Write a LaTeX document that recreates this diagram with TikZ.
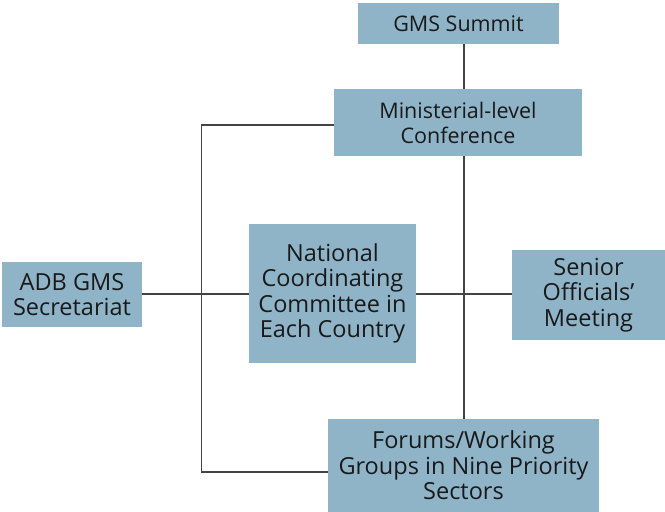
\documentclass[tikz,border=0pt]{standalone}
\usepackage{fontspec}
\setmainfont{Open Sans}
\definecolor{boxblue}{HTML}{8FB4C8}
\definecolor{linegray}{HTML}{444444}
\tikzset{
  orgbox/.style={fill=boxblue, draw=none, align=center, inner sep=0pt,
    font=\fontsize{23.5}{25.5}\selectfont, text=black!90},
  topbox/.style={orgbox, font=\fontsize{21.5}{25}\selectfont},
  conn/.style={draw=linegray, line width=1.3pt}
}
\begin{document}
\begin{tikzpicture}[x=1pt,y=1pt]
\useasboundingbox (0,0) rectangle (665,512);
\node[topbox, minimum width=201pt, minimum height=41pt] (gms) at (458.5,488.5) {GMS Summit};
\node[topbox, minimum width=248pt, minimum height=67pt] (min) at (458,389.5) {Ministerial-level\\Conference};
\node[orgbox, minimum width=140pt, minimum height=65pt] (adb) at (72,217.5) {ADB GMS\\Secretariat};
\node[orgbox, minimum width=167pt, minimum height=139pt] (nat) at (332.5,218.5) {National\\Coordinating\\Committee in\\Each Country};
\node[orgbox, minimum width=153pt, minimum height=90pt] (sen) at (588.5,217) {Senior\\Officials’\\Meeting};
\node[orgbox, minimum width=271pt, minimum height=93pt] (for) at (463.5,46.5) {Forums/Working\\Groups in Nine Priority\\Sectors};
\coordinate (spine) at (464,0);
\coordinate (hline) at (0,218);
\coordinate (ltop) at (201.5,387);
\coordinate (lbot) at (201.5,40);
\draw[conn] (gms.south -| spine) -- (min.north -| spine);
\draw[conn] (min.south -| spine) -- (for.north -| spine);
\draw[conn] (min.west |- ltop) -- (ltop) -- (lbot) -- (for.west |- lbot);
\draw[conn] (adb.east |- hline) -- (nat.west |- hline);
\draw[conn] (nat.east |- hline) -- (sen.west |- hline);
\end{tikzpicture}
\end{document}
